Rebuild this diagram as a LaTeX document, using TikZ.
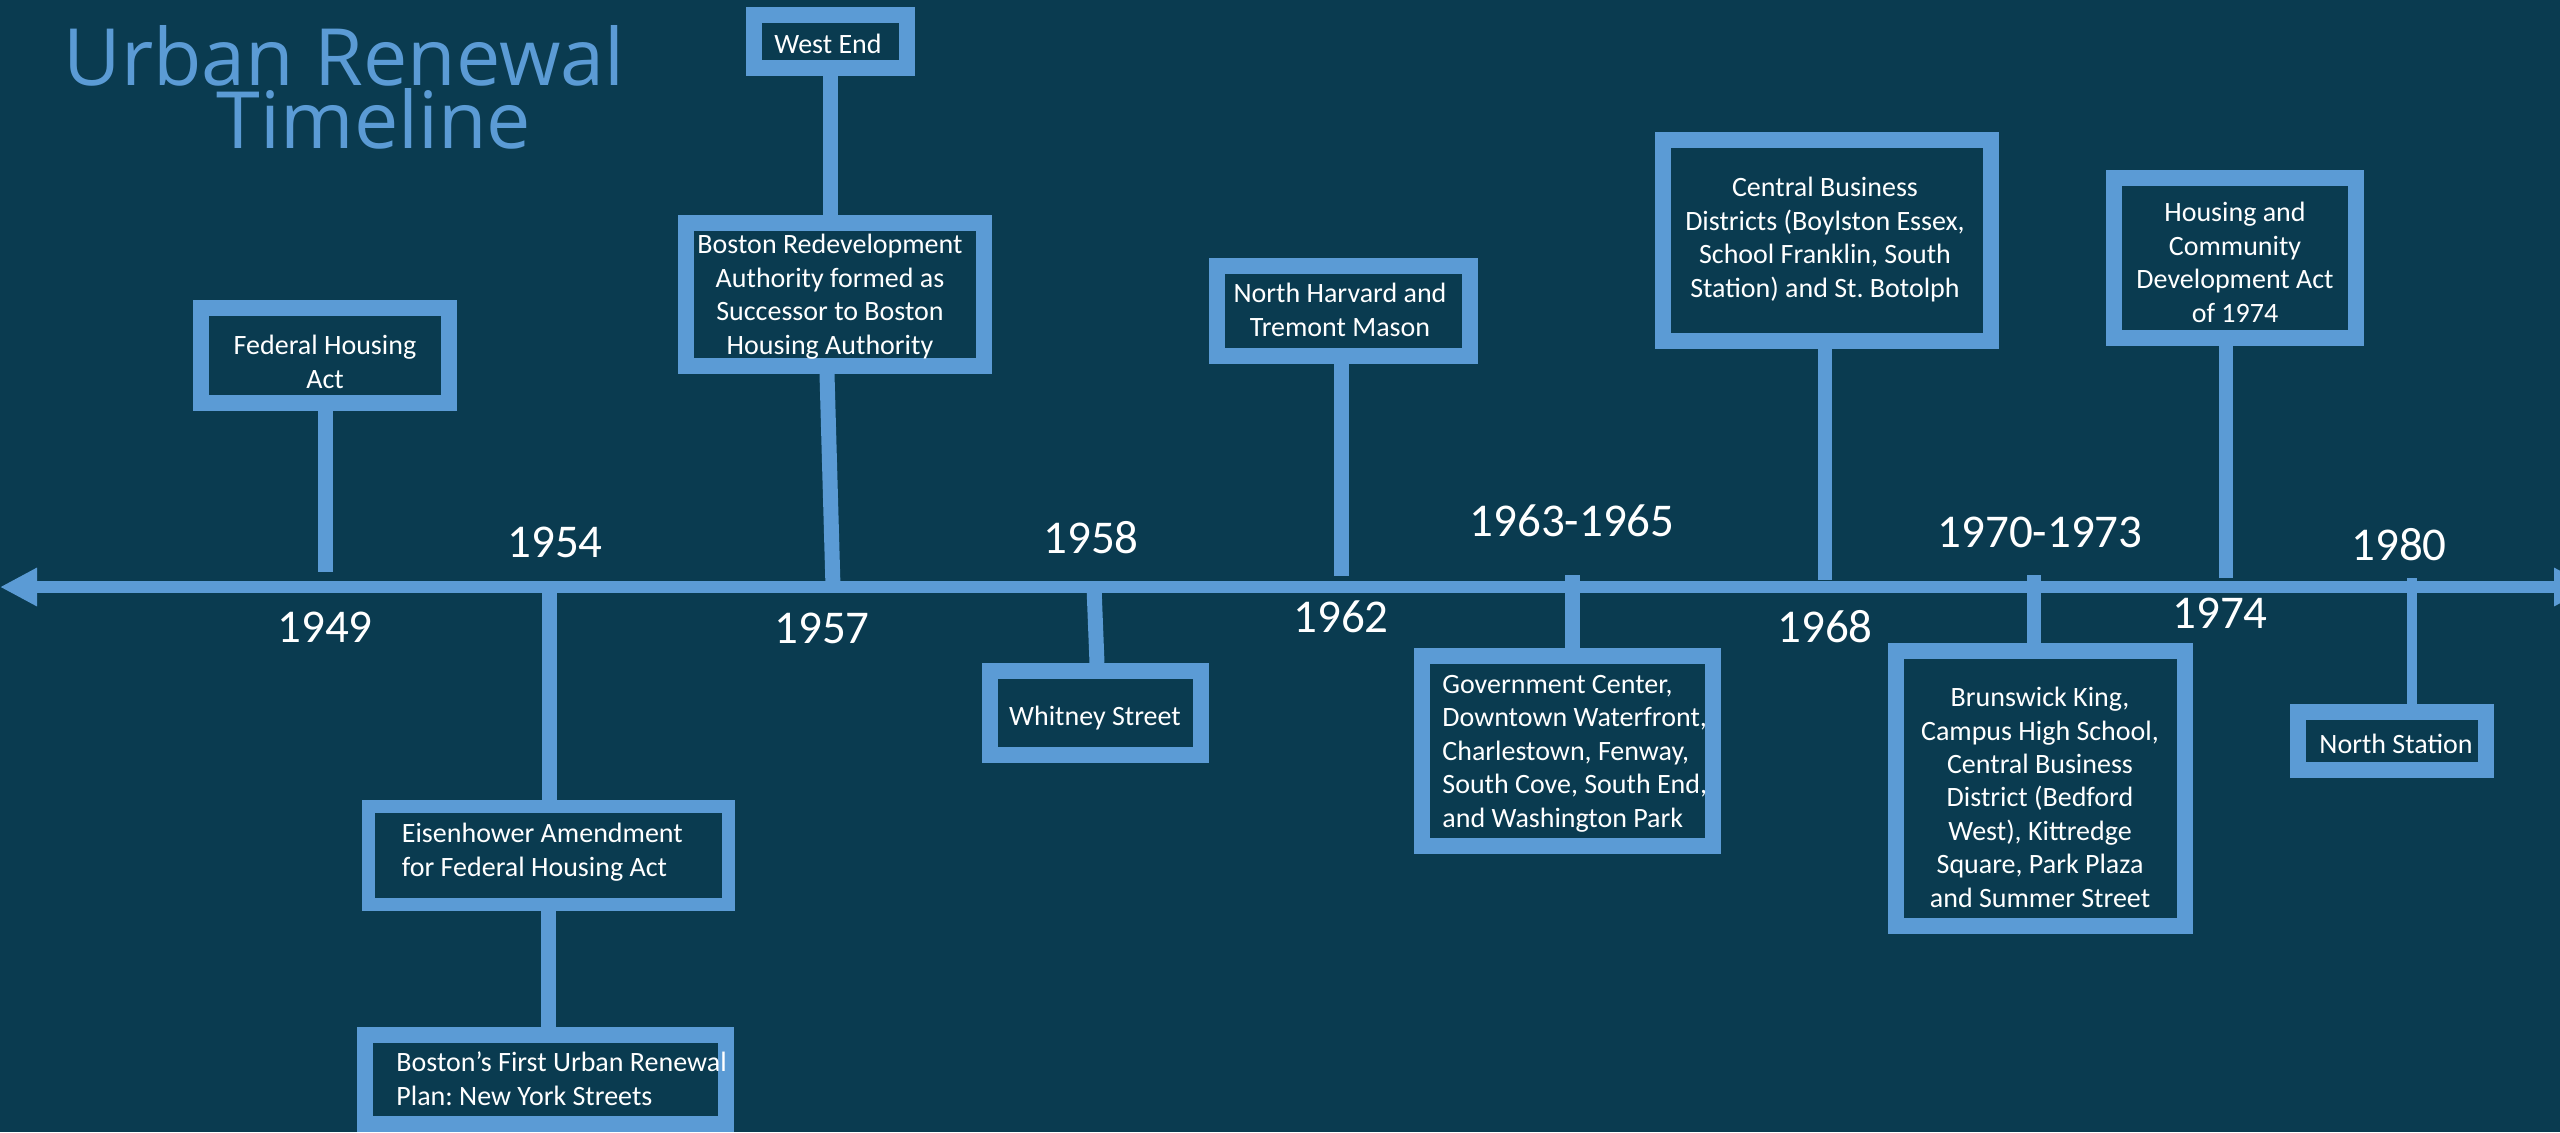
\documentclass[tikz,border=0pt]{standalone}
\usepackage{fontspec}
\setmainfont{Carlito}
\newfontfamily\titlefont{Open Sans}
\usetikzlibrary{arrows.meta}
\definecolor{bgc}{RGB}{10,59,80}
\definecolor{tblue}{RGB}{91,155,213}
\frenchspacing
\begin{document}
\begin{tikzpicture}[x=0.5pt,y=-0.5pt,
  box/.style={draw=tblue, line width=8pt, inner sep=0pt, rectangle},
  stem/.style={draw=tblue, line width=7.5pt},
  txt/.style={text=white, font=\fontsize{14pt}{16.7pt}\selectfont, inner sep=0pt, align=center, anchor=base},
  txtl/.style={txt, align=left, anchor=base west},
  yr/.style={text=white, font=\fontsize{23.5pt}{28pt}\selectfont, inner sep=0pt, anchor=base}]
\fill[bgc] (0,0) rectangle (2560,1132);
\useasboundingbox (0,0) rectangle (2560,1132);

% title
\node[text=tblue, font=\titlefont\fontsize{39.5pt}{31.5pt}\selectfont, align=center, anchor=base, inner sep=0pt] (title) at (344,148) {Urban Renewal\\\hspace*{30pt}Timeline};

% axis
\coordinate (axL) at (0,587);
\coordinate (axR) at (2591,587);
\draw[draw=tblue, line width=5.75pt, {Triangle[width=18pt,length=18.5pt]}-{Triangle[width=18pt,length=18.5pt]}] (axL) -- (axR);

% boxes
\node[box, minimum width=124pt, minimum height=47.5pt] (bFHA) at (325,355.5) {};
\node[box, line width=6.5pt, minimum width=180pt, minimum height=49pt] (bEis) at (548.5,855.5) {};
\node[box, minimum width=180.5pt, minimum height=44.5pt] (bBF) at (545.5,1079.5) {};
\node[box, minimum width=149pt, minimum height=71.5pt] (bBRA) at (835,294.5) {};
\node[box, minimum width=76.5pt, minimum height=26.5pt] (bWE) at (830.5,41.5) {};
\node[box, minimum width=105.5pt, minimum height=42pt] (bWS) at (1095.5,713) {};
\node[box, minimum width=126.5pt, minimum height=45pt] (bNH) at (1343.5,311) {};
\node[box, minimum width=145.5pt, minimum height=95pt] (bGC) at (1567.5,751) {};
\node[box, minimum width=164pt, minimum height=100.5pt] (bCBD) at (1827,240.5) {};
\node[box, minimum width=144.5pt, minimum height=137.5pt] (bBK) at (2040.5,788.5) {};
\node[box, minimum width=121pt, minimum height=80pt] (bHC) at (2235,258) {};
\node[box, minimum width=94pt, minimum height=29pt] (bNS) at (2392,741) {};

% stems
\coordinate (a49) at (325,572);
\coordinate (a54) at (549.5,587);
\coordinate (a57) at (833,587);
\coordinate (a58) at (1094,587);
\coordinate (a62) at (1341,576);
\coordinate (a63) at (1572,575);
\coordinate (a68) at (1824.5,580);
\coordinate (a70) at (2034,575);
\coordinate (a74) at (2226,578);
\coordinate (a80) at (2412,578);
\draw[stem] (bFHA.south) -- (a49);
\draw[stem] (a54) -- (a54 |- bEis.north);
\draw[stem] (bEis.south) -- (bEis.south |- bBF.north);
\draw[stem] ([xshift=-4pt]bBRA.south) -- (a57);
\draw[stem] (bWE.south) -- (bWE.south |- bBRA.north);
\draw[stem] (a58) -- ([xshift=0.75pt]bWS.north);
\draw[stem] (a62) -- (a62 |- bNH.south);
\draw[stem] (a63) -- (a63 |- bGC.north);
\draw[stem, line width=7pt] (a68) -- (a68 |- bCBD.south);
\draw[stem, line width=6.75pt] (a70) -- (a70 |- bBK.north);
\draw[stem, line width=6.75pt] (a74) -- (a74 |- bHC.south);
\draw[stem, line width=5pt] (a80) -- (a80 |- bNS.north);

% box texts (base = baseline of the last line)
\node[txt] (tFHA) at (325,388) {Federal Housing\\Act};
\node[txtl] (tEis) at (401.5,876) {Eisenhower Amendment\\for Federal Housing Act};
\node[txtl] (tBF) at (396,1105) {Boston’s First Urban Renewal\\Plan: New York Streets};
\node[txt] (tBRA) at (830,354) {Boston Redevelopment\\Authority formed as\\Successor to Boston\\Housing Authority};
\node[txt] (tWE) at (828,53) {West End};
\node[txt] (tWS) at (1095,725) {Whitney Street};
\node[txt] (tNH) at (1340,336) {North Harvard and\\Tremont Mason};
\node[txtl] (tGC) at (1442,827) {Government Center,\\Downtown Waterfront,\\Charlestown, Fenway,\\South Cove, South End,\\and Washington Park};
\node[txt] (tCBD) at (1825,297) {Central Business\\Districts (Boylston Essex,\\School Franklin, South\\Station) and St. Botolph};
\node[txt] (tBK) at (2040,907) {Brunswick King,\\Campus High School,\\Central Business\\District (Bedford\\West), Kittredge\\Square, Park Plaza\\and Summer Street};
\node[txt] (tHC) at (2235,322) {Housing and\\Community\\Development Act\\of 1974};
\node[txt] (tNS) at (2396,753) {North Station};

% years
\node[yr] (y49) at (325,642) {1949};
\node[yr] (y54) at (555,557) {1954};
\node[yr] (y57) at (822,643) {1957};
\node[yr] (y58) at (1091,553) {1958};
\node[yr] (y62) at (1341,632) {1962};
\node[yr] (y63) at (1572,536) {1963-1965};
\node[yr] (y68) at (1825,642) {1968};
\node[yr] (y70) at (2040,547) {1970-1973};
\node[yr] (y74) at (2220,628) {1974};
\node[yr] (y80) at (2399,560) {1980};
\end{tikzpicture}
\end{document}
